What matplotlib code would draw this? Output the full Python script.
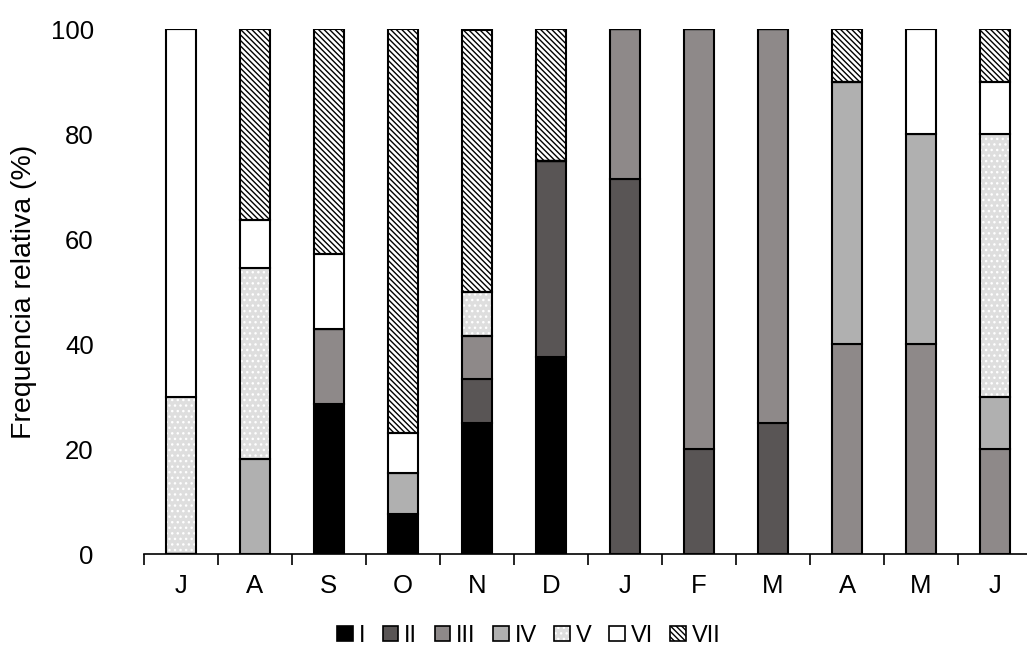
import numpy as np
import matplotlib.pyplot as plt
from matplotlib.patches import Patch
from matplotlib.legend_handler import HandlerTuple

plt.rcParams['font.family'] = ['Liberation Sans', 'DejaVu Sans']
plt.rcParams['hatch.linewidth'] = 1.0

months = ['J', 'A', 'S', 'O', 'N', 'D', 'J', 'F', 'M', 'A', 'M', 'J']
stages = ['I', 'II', 'III', 'IV', 'V', 'VI', 'VII']

# relative frequency (%) of each stage per month
st_I = [0, 0, 28.6, 7.7, 25.0, 37.5, 0, 0, 0, 0, 0, 0]
st_II = [0, 0, 0, 0, 8.3, 37.5, 71.4, 20, 25, 0, 0, 0]
st_III = [0, 0, 14.3, 0, 8.3, 0, 28.6, 80, 75, 40, 40, 20]
st_IV = [0, 18.2, 0, 7.7, 0, 0, 0, 0, 0, 50, 40, 10]
st_V = [30, 36.4, 0, 0, 8.3, 0, 0, 0, 0, 0, 0, 50]
st_VI = [70, 9.1, 14.3, 7.7, 0, 0, 0, 0, 0, 0, 20, 10]
st_VII = [0, 36.4, 42.9, 76.9, 50.0, 25.0, 0, 0, 0, 10, 0, 10]

series = [st_I, st_II, st_III, st_IV, st_V, st_VI, st_VII]
# (face, hatch, hatch colour)
styles = [
    ('#000000', None, None),
    ('#595555', None, None),
    ('#8e8989', None, None),
    ('#b0b0b0', None, None),
    ('#dedede', '...', 'white'),
    ('#ffffff', None, None),
    ('#ffffff', '\\\\\\\\\\\\', 'black'),
]

fig = plt.figure(figsize=(10.27, 6.52), dpi=100)
ax = fig.add_axes([0.140, 0.150, 0.865, 0.805])

x = np.arange(len(months))
w = 0.4
bottom = np.zeros(len(months))
handles = []
for name, vals, (fc, hatch, hc) in zip(stages, series, styles):
    vals = np.array(vals, dtype=float)
    if hatch:
        # hatch fill first, then a black outline on top
        ax.bar(x, vals, w, bottom=bottom, color=fc, edgecolor=hc,
               hatch=hatch, linewidth=0, zorder=2)
        ax.bar(x, vals, w, bottom=bottom, facecolor='none',
               edgecolor='black', linewidth=1.5, zorder=3)
        handles.append((Patch(facecolor=fc, edgecolor=hc, hatch=hatch,
                              linewidth=0),
                        Patch(facecolor='none', edgecolor='black',
                              linewidth=1.2)))
    else:
        ax.bar(x, vals, w, bottom=bottom, color=fc, edgecolor='black',
               linewidth=1.5, zorder=3)
        handles.append(Patch(facecolor=fc, edgecolor='black', linewidth=1.2))
    bottom += vals

ax.set_xlim(-0.5, len(months) - 0.5)
ax.set_ylim(0, 100)
ax.set_yticks(np.arange(0, 101, 20))
ax.set_xticks(x)
ax.set_xticklabels(months, fontsize=18.5)
ax.set_xticks(np.arange(-0.5, len(months), 1), minor=True)
ax.tick_params(axis='x', which='major', length=0, pad=14)
ax.tick_params(axis='x', which='minor', length=8, width=1.2, color='black')
ax.tick_params(axis='y', length=0, pad=36, labelsize=18.5)

for s in ['top', 'right', 'left']:
    ax.spines[s].set_visible(False)
ax.spines['bottom'].set_linewidth(1.2)

ax.set_ylabel('Frequencia relativa (%)', fontsize=20.5, labelpad=10)

fig.legend(handles=handles, labels=stages, loc='center',
           bbox_to_anchor=(0.515, 0.025),
           handler_map={tuple: HandlerTuple(ndivide=1)},
           ncol=7, frameon=False, fontsize=17, handlelength=0.65,
           handleheight=0.65, handletextpad=0.25, columnspacing=0.75)

fig.savefig('out.png', dpi=100)
